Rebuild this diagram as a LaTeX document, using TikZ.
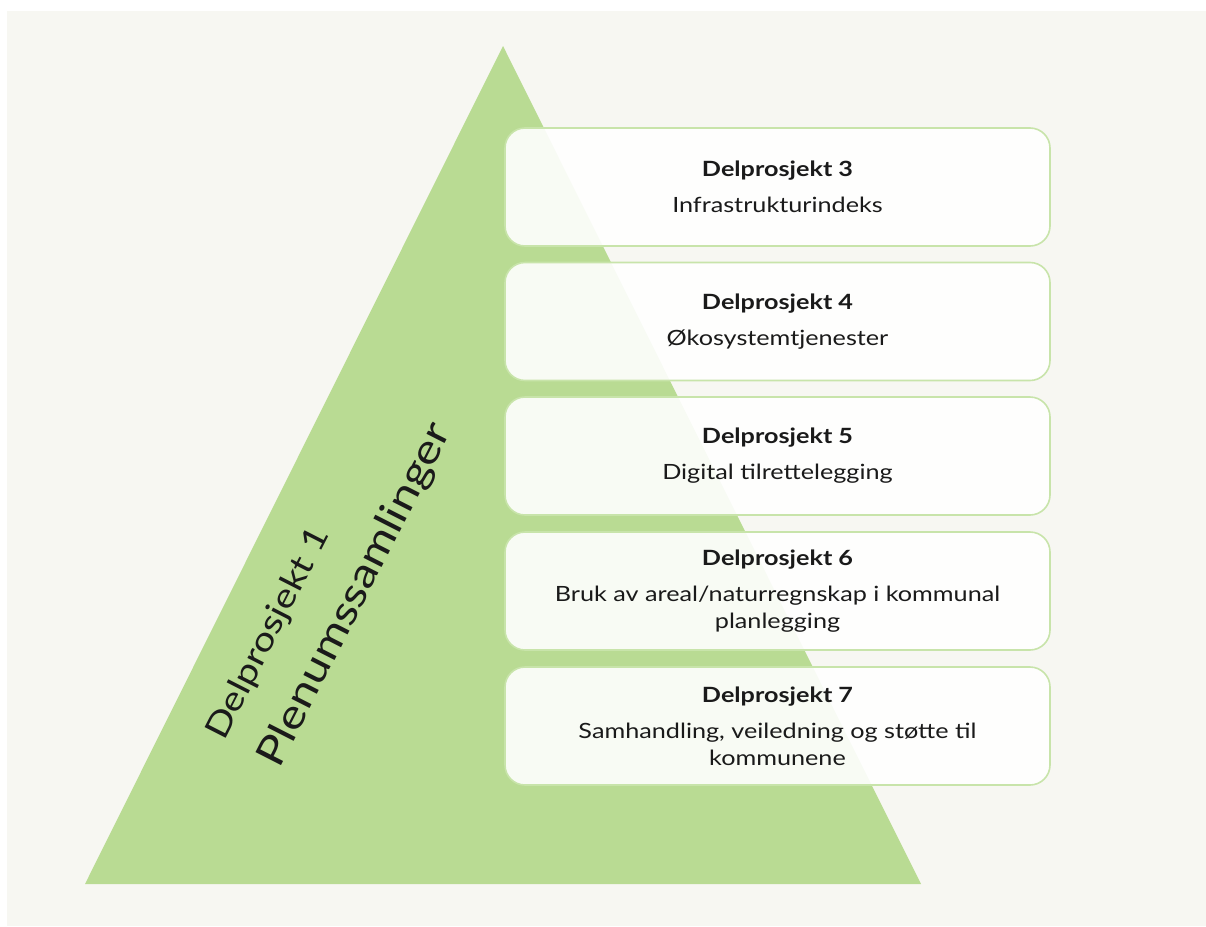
\documentclass[tikz,border=0pt]{standalone}
\usepackage{fontspec}
\setmainfont{Lato}[FakeStretch=1.2]
\definecolor{bgcol}{HTML}{F7F7F2}
\definecolor{tricol}{HTML}{B9DB93}
\definecolor{boxline}{HTML}{C8E4AA}
\definecolor{txt}{HTML}{1A1A1A}
\tikzset{
  box/.style={draw=boxline, line width=1.6pt, fill=white, fill opacity=0.9, text opacity=1,
    rounded corners=20pt, minimum width=545pt, minimum height=118pt, align=center,
    text=txt, font=\fontsize{21}{27}\selectfont, inner sep=0pt},
  rottext/.style={rotate=63, anchor=base west, inner sep=0pt, text=txt}
}
\begin{document}
\begin{tikzpicture}[x=1pt,y=-1pt]
\useasboundingbox (0,0) rectangle (1206,926);
\fill[white] (0,0) rectangle (1206,926);
\fill[bgcol] (7,11) rectangle (1206,926);
\fill[tricol] (503,46) -- (921,884) -- (85,884) -- cycle;
\node[rottext, font=\fontsize{33}{38}\selectfont] (d1) at (224,742) {Delprosjekt 1};
\node[rottext, font=\fontsize{40}{48}\selectfont] (d2) at (279,770) {Plenumssamlinger};
\node[box] (b3) at (777.5,187) {\textbf{Delprosjekt 3}\\[9pt]Infrastrukturindeks};
\node[box] (b4) at (777.5,321.5) {\textbf{Delprosjekt 4}\\[9pt]Økosystemtjenester};
\node[box] (b5) at (777.5,456) {\textbf{Delprosjekt 5}\\[9pt]Digital tilrettelegging};
\node[box] (b6) at (777.5,591) {\textbf{Delprosjekt 6}\\[9pt]Bruk av areal/naturregnskap i kommunal\\planlegging};
\node[box] (b7) at (777.5,726) {\textbf{Delprosjekt 7}\\[9pt]Samhandling, veiledning og støtte til\\kommunene};
\end{tikzpicture}
\end{document}
